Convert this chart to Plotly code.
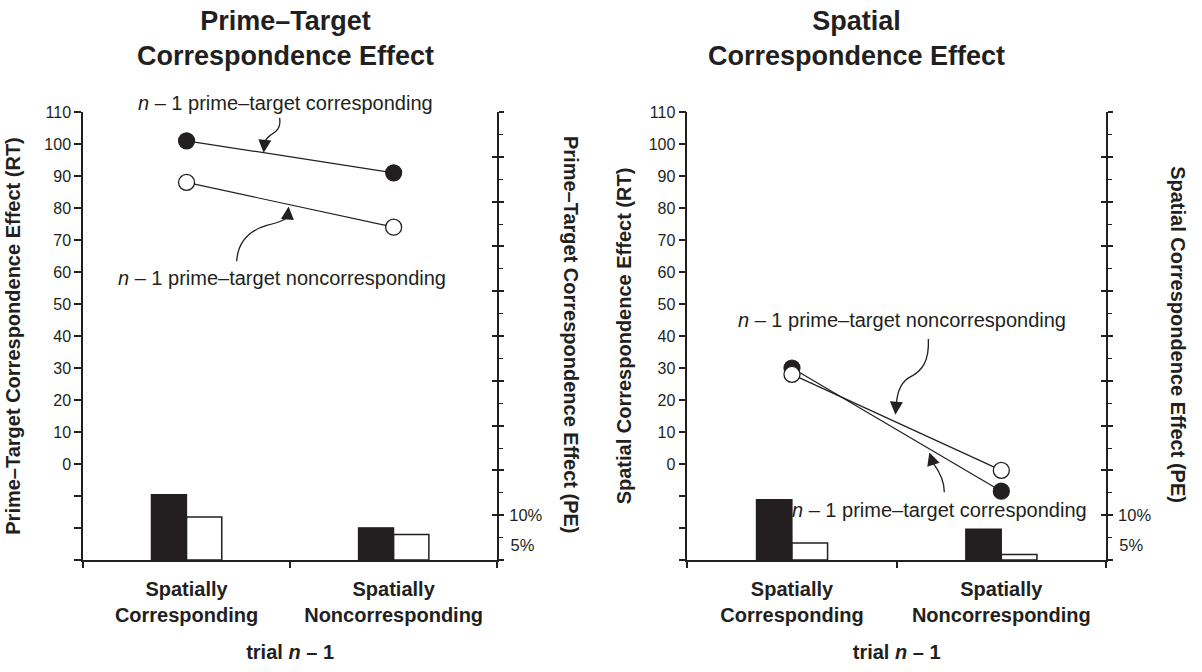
import plotly.graph_objects as go

# ---------------- data ----------------
categories = ["Spatially Corresponding", "Spatially Noncorresponding"]
category_labels = ["Spatially<br>Corresponding", "Spatially<br>Noncorresponding"]

# Prime-Target correspondence effect panel
pt_rt_corr = [101, 91]        # n-1 prime-target corresponding (filled circles)
pt_rt_noncorr = [88, 74]      # n-1 prime-target noncorresponding (open circles)
pt_pe_corr = [14.6, 7.2]      # black bars (%)
pt_pe_noncorr = [9.6, 5.7]    # white bars (%)

# Spatial correspondence effect panel
sp_rt_corr = [30, -8.5]
sp_rt_noncorr = [28, -2]
sp_pe_corr = [13.5, 6.9]
sp_pe_noncorr = [3.8, 1.2]

rt_tickvals = [-30, -20, -10, 0, 10, 20, 30, 40, 50, 60, 70, 80, 90, 100, 110]
rt_ticktext = ["", "", "", "0", "10", "20", "30", "40", "50", "60", "70", "80", "90", "100", "110"]
pe_major_tickvals = [0, 10, 20, 30, 40, 50, 60, 70, 80, 90, 100]
pe_major_ticktext = ["", "10%", "", "", "", "", "", "", "", "", ""]
pe_extra_tickvals = [5]
pe_extra_ticktext = ["5%"]

# ---------------- style ----------------
W, H = 1202, 672
L, R, T, B = 81, 1106, 112, 562
INK = "#231f20"
FONT = "Liberation Sans, Arial, Helvetica, sans-serif"


def px2x(px):
    return (px - L) / (R - L)


def py2y(py):
    return (B - py) / (B - T)


fig = go.Figure()

# bars (PE) and lines (RT) for both panels
panels = [
    ("x", "y", "y2", "y3", "y4", pt_rt_corr, pt_rt_noncorr, pt_pe_corr, pt_pe_noncorr),
    ("x2", "y5", "y6", "y7", "y8", sp_rt_corr, sp_rt_noncorr, sp_pe_corr, sp_pe_noncorr),
]
for xa, yrt, ype, ylab, yin, rtc, rtn, pec, pen in panels:
    fig.add_trace(go.Bar(x=categories, y=pec, xaxis=xa, yaxis=ype,
                         marker=dict(color=INK, line=dict(color=INK, width=1.2)),
                         showlegend=False, name="PE corresponding"))
    fig.add_trace(go.Bar(x=categories, y=pen, xaxis=xa, yaxis=ype,
                         marker=dict(color="white", line=dict(color=INK, width=1.5)),
                         showlegend=False, name="PE noncorresponding"))
    fig.add_trace(go.Scatter(x=categories, y=rtc, xaxis=xa, yaxis=yrt, mode="lines+markers",
                             line=dict(color=INK, width=1.2),
                             marker=dict(size=16, color=INK, line=dict(color=INK, width=1.2)),
                             showlegend=False, name="RT corresponding"))
    fig.add_trace(go.Scatter(x=categories, y=rtn, xaxis=xa, yaxis=yrt, mode="lines+markers",
                             line=dict(color=INK, width=1.2),
                             marker=dict(size=16, color="white", line=dict(color=INK, width=1.3)),
                             showlegend=False, name="RT noncorresponding"))
    # empty traces so the extra overlay axes (5% label, inner tick marks) are drawn
    for ya in (ylab, yin):
        fig.add_trace(go.Scatter(x=[], y=[], xaxis=xa, yaxis=ya, mode="markers",
                                 showlegend=False, hoverinfo="skip"))


def xaxis_def(domain, anchor):
    return dict(domain=domain, anchor=anchor, type="category",
                categoryorder="array", categoryarray=categories,
                range=[-0.5, 1.5], tickson="boundaries",
                tickmode="array", tickvals=categories, ticktext=category_labels,
                ticks="outside", ticklen=6, tickwidth=1.5, tickcolor=INK,
                showline=True, linecolor=INK, linewidth=1.5, showgrid=False, zeroline=False,
                tickfont=dict(size=20, color=INK, family=FONT, weight="bold"),
                ticklabelstandoff=10,
                title=dict(text="trial <i>n</i> – 1", standoff=20,
                           font=dict(size=20, color=INK, family=FONT, weight="bold")))


def rt_axis(anchor, title, standoff):
    return dict(anchor=anchor, domain=[0, 1], range=[-30, 110], tickmode="array",
                tickvals=rt_tickvals, ticktext=rt_ticktext,
                ticks="outside", ticklen=7, tickwidth=1.5, tickcolor=INK,
                showline=True, linecolor=INK, linewidth=1.5, showgrid=False, zeroline=False,
                tickfont=dict(size=16, color=INK, family=FONT),
                title=dict(text=title, standoff=standoff,
                           font=dict(size=20, color=INK, family=FONT, weight="bold")))


def pe_axis(anchor, over):
    return dict(anchor=anchor, overlaying=over, side="right", range=[0, 100],
                tickmode="array", tickvals=pe_major_tickvals, ticktext=pe_major_ticktext,
                ticks="outside", ticklen=5, tickwidth=1.5, tickcolor=INK,
                minor=dict(tickmode="linear", tick0=0, dtick=5, ticks="outside",
                           ticklen=4, tickwidth=1.2, tickcolor=INK),
                ticklabelstandoff=2,
                showline=True, linecolor=INK, linewidth=1.5, showgrid=False, zeroline=False,
                tickfont=dict(size=16.5, color=INK, family=FONT))


def pe_label_axis(anchor, over):
    return dict(anchor=anchor, overlaying=over, side="right", range=[0, 100],
                tickmode="array", tickvals=pe_extra_tickvals, ticktext=pe_extra_ticktext,
                ticks="outside", ticklen=5, tickcolor="rgba(0,0,0,0)",
                ticklabelstandoff=4, ticklabelshift=8,
                showline=False, showgrid=False, zeroline=False,
                tickfont=dict(size=16.5, color=INK, family=FONT))


def pe_inner_axis(anchor, over):
    return dict(anchor=anchor, overlaying=over, side="right", range=[0, 100],
                tickmode="array", tickvals=pe_major_tickvals, showticklabels=False,
                ticks="inside", ticklen=5, tickwidth=1.5, tickcolor=INK,
                showline=False, showgrid=False, zeroline=False)


fig.update_layout(
    width=W, height=H, autosize=False,
    margin=dict(l=L, r=W - R, t=T, b=H - B, pad=0),
    paper_bgcolor="white", plot_bgcolor="white",
    barmode="group", bargap=0.66, bargroupgap=0,
    font=dict(family=FONT, color=INK),
    xaxis=xaxis_def([0, px2x(496)], "y"),
    xaxis2=xaxis_def([px2x(686.5), 1], "y5"),
    yaxis=rt_axis("x", "Prime–Target Correspondence Effect (RT)", 18),
    yaxis2=pe_axis("x", "y"),
    yaxis3=pe_label_axis("x", "y"),
    yaxis4=pe_inner_axis("x", "y"),
    yaxis5=rt_axis("x2", "Spatial Correspondence Effect (RT)", 12),
    yaxis6=pe_axis("x2", "y5"),
    yaxis7=pe_label_axis("x2", "y5"),
    yaxis8=pe_inner_axis("x2", "y5"),
)

annos = []


def text_anno(txt, cx, cy, size, angle=0):
    return dict(x=px2x(cx), y=py2y(cy), xref="paper", yref="paper", showarrow=False,
                xanchor="center", yanchor="middle", textangle=angle, text=txt,
                font=dict(size=size, color=INK, family=FONT))


# panel titles
annos.append(text_anno("<b>Prime–Target<br>Correspondence Effect</b>", 284, 38, 27))
annos.append(text_anno("<b>Spatial<br>Correspondence Effect</b>", 856, 38, 27))
# right-side PE axis titles (rotated clockwise)
annos.append(text_anno("<b>Prime–Target Correspondence Effect (PE)</b>", 570, 336, 20, 90))
annos.append(text_anno("<b>Spatial Correspondence Effect (PE)</b>", 1178, 336, 20, 90))

# series labels
label_c = "<i>n</i> – 1 prime–target corresponding"
label_n = "<i>n</i> – 1 prime–target noncorresponding"
for txt, cx, cy in [(label_c, 283.5, 103), (label_n, 280, 279),
                    (label_n, 902, 321), (label_c, 939, 512)]:
    annos.append(text_anno(txt, cx, cy, 20))

# curved leader arrows: (path points in px, tail for head, tip)
curves = [
    ([(278, 118), (280, 130), (272, 133), (268, 136), (264, 139), (263, 142), (263, 145)], (263, 142), (262, 153)),
    ([(235, 262), (236, 245), (245, 232), (265, 226), (280, 222), (285, 220), (286, 216)], (286, 218), (287, 207)),
    ([(928, 340), (929, 362), (922, 372), (910, 378), (902, 382), (897, 392), (896, 405)], (896, 403), (895, 416)),
    ([(944, 494), (944, 482), (939, 473), (933, 465)], (933, 466), (929, 454)),
]
shapes = []
for pts, tail, tip in curves:
    p = "M {:.5f},{:.5f}".format(px2x(pts[0][0]), py2y(pts[0][1]))
    rest = pts[1:]
    for i in range(0, len(rest), 3):
        seg = rest[i:i + 3]
        p += " C " + " ".join("{:.5f},{:.5f}".format(px2x(a), py2y(b)) for a, b in seg)
    shapes.append(dict(type="path", path=p, xref="paper", yref="paper",
                       line=dict(color=INK, width=1.3)))
    annos.append(dict(x=px2x(tip[0]), y=py2y(tip[1]), xref="paper", yref="paper",
                      text="", showarrow=True, arrowhead=2, arrowsize=2.0, arrowwidth=1.3,
                      arrowcolor=INK, ax=tail[0] - tip[0], ay=tail[1] - tip[1]))

fig.update_layout(annotations=annos, shapes=shapes)

fig.write_html("out.html")
